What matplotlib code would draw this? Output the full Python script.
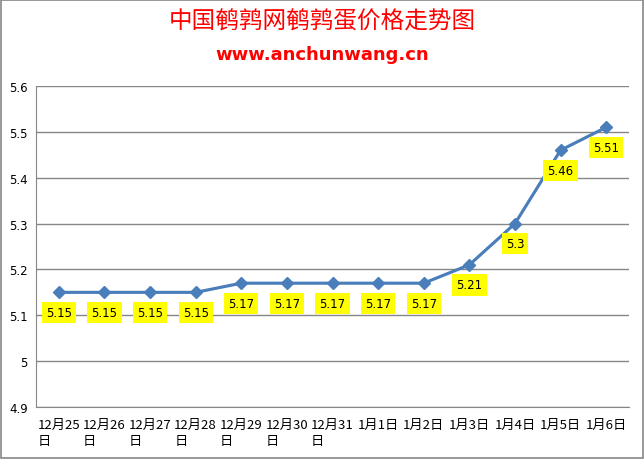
import numpy as np
import matplotlib.pyplot as plt

plt.rcParams['font.family'] = ['DejaVu Sans', 'Noto Sans CJK SC']

# data
dates = ['12月25\n日', '12月26\n日', '12月27\n日', '12月28\n日', '12月29\n日', '12月30\n日',
         '12月31\n日', '1月1日', '1月2日', '1月3日', '1月4日', '1月5日', '1月6日']
prices = [5.15, 5.15, 5.15, 5.15, 5.17, 5.17, 5.17, 5.17, 5.17, 5.21, 5.3, 5.46, 5.51]
price_labels = ['5.15', '5.15', '5.15', '5.15', '5.17', '5.17', '5.17', '5.17', '5.17',
                '5.21', '5.3', '5.46', '5.51']
yticks = [4.9, 5, 5.1, 5.2, 5.3, 5.4, 5.5, 5.6]
ytick_labels = ['4.9', '5', '5.1', '5.2', '5.3', '5.4', '5.5', '5.6']

fig = plt.figure(figsize=(6.44, 4.6), dpi=100)
# figure border
fig.patches.append(plt.Rectangle((0.002, 0.002), 0.996, 0.995, transform=fig.transFigure,
                                 fill=False, edgecolor='#868686', linewidth=1.2))

ax = fig.add_axes([36/644, 1-408/460, 593/644, (408-87)/460])
x = np.arange(len(prices))
ax.plot(x, prices, color='#4A7EBB', linewidth=2.25, marker='D', markersize=6, zorder=3)

for xi, p, lab in zip(x, prices, price_labels):
    ax.annotate(lab, (xi, p), xytext=(0, -14.5), textcoords='offset points',
                ha='center', va='center', fontsize=8.5, zorder=4,
                family=['DejaVu Sans'],
                bbox=dict(boxstyle='square,pad=0.35', facecolor='#FFFF00', edgecolor='none'))

ax.set_xlim(-0.5, len(prices) - 0.5)
ax.set_ylim(4.9, 5.6)
ax.set_yticks(yticks)
ax.set_yticklabels(ytick_labels, fontsize=8.5)
ax.set_xticks(x)
ax.set_xticklabels(dates, fontsize=9.5, linespacing=1.25, va='top', ha='center',
                   family=['Noto Sans CJK SC', 'DejaVu Sans'])
for t in ax.get_xticklabels():
    t.set_multialignment('left')
ax.grid(axis='y', color='#868686', linewidth=1)
ax.set_axisbelow(True)
ax.tick_params(axis='y', length=0, pad=6)
ax.tick_params(axis='x', length=0, pad=8)
ax.spines['top'].set_visible(False)
ax.spines['right'].set_visible(False)
ax.spines['left'].set_color('#868686')
ax.spines['bottom'].set_color('#868686')

fig.text(0.5, 1-22/460, '中国鹌鹑网鹌鹑蛋价格走势图', ha='center', va='center',
         color='#FF0000', fontsize=17, family=['Noto Sans CJK SC'])
fig.text(0.5, 1-55/460, 'www.anchunwang.cn', ha='center', va='center',
         color='#FF0000', fontsize=13, fontweight='bold', family=['DejaVu Sans'])

plt.savefig('out.png', dpi=100)
